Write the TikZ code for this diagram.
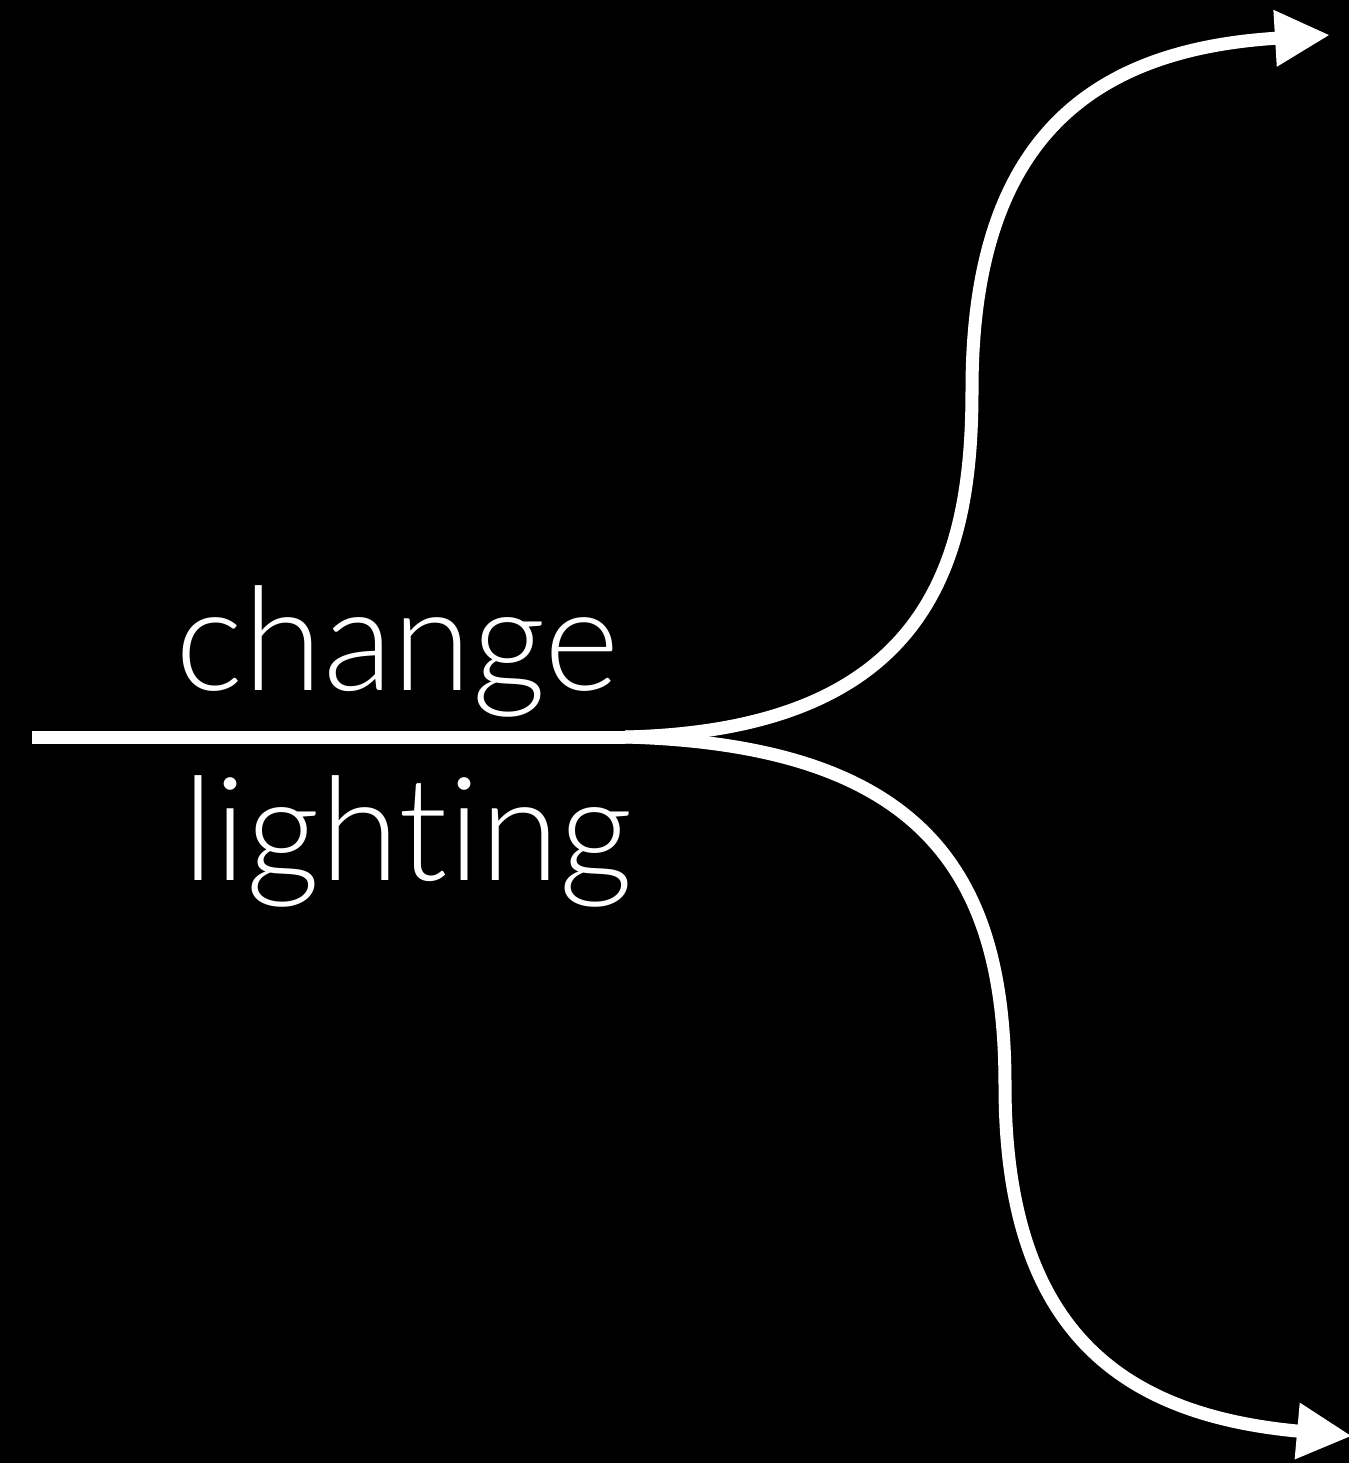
\documentclass[tikz,border=0pt]{standalone}
\usepackage{fontspec}
\setmainfont{Lato}[UprightFont=* Light, Ligatures={NoCommon,NoDiscretionary}]
\usetikzlibrary{arrows.meta}

\begin{document}
\begin{tikzpicture}[x=0.01cm,y=-0.01cm,
    flow/.style={white, line width=3.7pt, -{Triangle[length=0.55cm,width=0.53cm]}},
    label/.style={white, inner sep=0pt, anchor=base west, font=\fontsize{41}{48}\selectfont}]
  \fill[black] (0,0) rectangle (1349,1463);
  \useasboundingbox (0,0) rectangle (1349,1463);
  % stem and split point
  \coordinate (start) at (32,737);
  \coordinate (split) at (625,737);
  \coordinate (upper) at (1330,35);
  \coordinate (lower) at (1352,1436);
  \draw[white, line width=3.7pt] (start) -- (split);
  \draw[flow] (split) .. controls (930,730) and (972,560) .. (972,390)
    .. controls (972,150) and (1080,50) .. (upper);
  \draw[flow] (split) .. controls (930,745) and (1005,880) .. (1005,1085)
    .. controls (1005,1330) and (1120,1415) .. (lower);
  \node[label] (change) at (175,690) {change};
  \node[label] (lighting) at (182,880) {lighting};
\end{tikzpicture}
\end{document}
